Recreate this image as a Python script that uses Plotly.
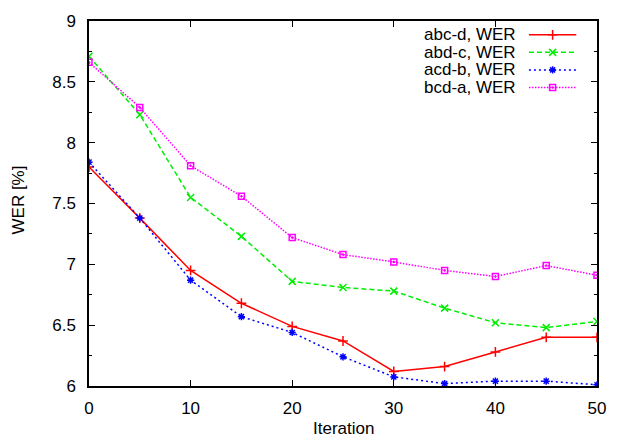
import plotly.graph_objects as go

iterations = [0, 5, 10, 15, 20, 25, 30, 35, 40, 45, 50]
wer_abc_d = [7.80, 7.38, 6.95, 6.68, 6.49, 6.37, 6.12, 6.16, 6.28, 6.40, 6.40]
wer_abd_c = [8.71, 8.23, 7.55, 7.23, 6.86, 6.81, 6.78, 6.64, 6.52, 6.48, 6.53]
wer_acd_b = [7.84, 7.38, 6.87, 6.57, 6.44, 6.24, 6.075, 6.02, 6.04, 6.04, 6.01]
wer_bcd_a = [8.66, 8.29, 7.81, 7.56, 7.22, 7.08, 7.02, 6.95, 6.90, 6.99, 6.91]
series_names = ["abc-d, WER", "abd-c, WER", "acd-b, WER", "bcd-a, WER"]
x_ticks = [0, 10, 20, 30, 40, 50]
y_ticks = [6, 6.5, 7, 7.5, 8, 8.5, 9]

FONT = "Liberation Sans, Arial, Helvetica, sans-serif"
FS = 17
W, H = 618, 438
ML, MR, MT, MB = 89, 14, 16, 52

styles = [
    dict(color="#ff0000", dash="solid", symbol="cross-thin-open", size=7),
    dict(color="#00ee00", dash="5px,3px", symbol="x-thin-open", size=7),
    dict(color="#0000ff", dash="2px,3px", symbol="asterisk-open", size=6),
    dict(color="#ff00ff", dash="1.5px,1.5px", symbol="square-open-dot", size=6),
]
data = [wer_abc_d, wer_abd_c, wer_acd_b, wer_bcd_a]

fig = go.Figure()
for name, ys, st in zip(series_names, data, styles):
    fig.add_trace(go.Scatter(
        x=iterations, y=ys, mode="lines+markers", name=name, showlegend=False,
        line=dict(color=st["color"], width=1.5, dash=st["dash"]),
        marker=dict(symbol=st["symbol"], size=st["size"], color=st["color"],
                    line=dict(color=st["color"], width=1.5)),
        xaxis="x", yaxis="y",
    ))

# Custom legend (gnuplot style: text right-aligned, key sample to the right)
key_x0, key_x1 = 535, 583      # pixel positions of key sample
text_right = 523
row0, row_step = 30, 17.8
for i, (name, st) in enumerate(zip(series_names, styles)):
    ry = row0 + i * row_step
    fig.add_trace(go.Scatter(
        x=[key_x0, (key_x0 + key_x1) / 2, key_x1], y=[ry, ry, ry],
        mode="lines", showlegend=False, hoverinfo="skip",
        line=dict(color=st["color"], width=1.5, dash=st["dash"]),
        xaxis="x2", yaxis="y2",
    ))
    fig.add_trace(go.Scatter(
        x=[(key_x0 + key_x1) / 2], y=[ry], mode="markers", showlegend=False,
        hoverinfo="skip",
        marker=dict(symbol=st["symbol"], size=st["size"], color=st["color"],
                    line=dict(color=st["color"], width=1.5)),
        xaxis="x2", yaxis="y2",
    ))
    fig.add_annotation(
        x=text_right, y=ry, xref="x2", yref="y2", text=name, showarrow=False,
        xanchor="right", yanchor="middle", borderpad=0,
        font=dict(family=FONT, size=FS, color="black"),
    )

# Axis titles
fig.add_annotation(x=0.5, y=0, xref="paper", yref="paper", yshift=-42, text="Iteration",
                   showarrow=False, xanchor="center", yanchor="middle",
                   font=dict(family=FONT, size=FS, color="black"))
fig.add_annotation(x=0, y=0.5, xref="paper", yref="paper", xshift=-71, yshift=3, text="WER [%]",
                   textangle=-90, showarrow=False, xanchor="center", yanchor="middle",
                   font=dict(family=FONT, size=FS, color="black"))

axis_common = dict(
    showgrid=False, zeroline=False, showline=True, linecolor="black", linewidth=1.5,
    mirror="ticks", ticks="inside", ticklen=6, tickwidth=1, tickcolor="black",
    tickfont=dict(family=FONT, size=FS, color="black"),
)
fig.update_layout(
    width=W, height=H, margin=dict(l=ML, r=MR, t=MT, b=MB),
    paper_bgcolor="white", plot_bgcolor="white",
    font=dict(family=FONT, size=FS, color="black"),
    xaxis=dict(range=[0, 50], tickvals=x_ticks, ticktext=[str(v) for v in x_ticks],
               ticklabelstandoff=6, **axis_common),
    yaxis=dict(range=[6, 9], tickvals=y_ticks, ticktext=[f"{v:g}" for v in y_ticks],
               minor=dict(ticks="inside", ticklen=3, tickcolor="black", dtick=0.25, showgrid=False),
               ticklabelstandoff=8, **axis_common),
    xaxis2=dict(range=[ML, W - MR], overlaying="x", visible=False, domain=[0, 1]),
    yaxis2=dict(range=[H - MB, MT], overlaying="y", visible=False, domain=[0, 1]),
    showlegend=False,
)
fig.write_html(
    "out.html",
    config={"displayModeBar": False},
    post_script="document.body.style.margin='0';document.body.style.overflow='hidden';",
)
